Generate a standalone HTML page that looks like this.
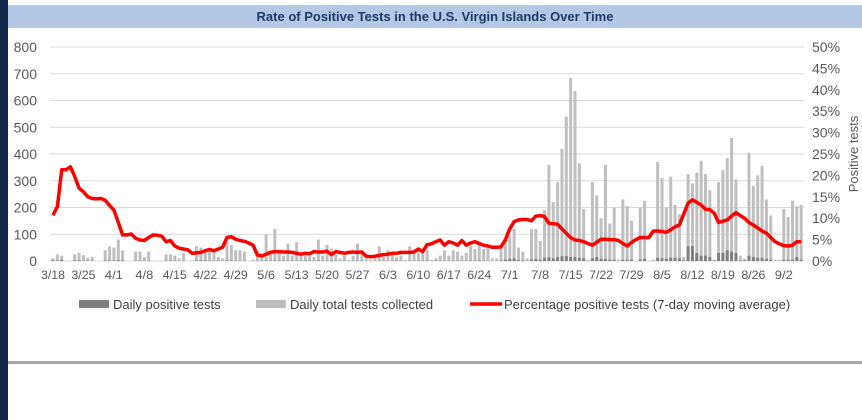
<!DOCTYPE html>
<html><head><meta charset="utf-8"><style>
body{margin:0;width:862px;height:420px;overflow:hidden;background:#fff;font-family:"Liberation Sans",sans-serif;position:relative}
#strip{position:absolute;left:0;top:0;width:8px;height:420px;background:#13284a}
#titlebar{position:absolute;left:8px;top:5px;width:854px;height:23px;background:#b4c7e7;text-align:center;font-weight:bold;font-size:13px;line-height:23px;color:#1f3864}
#rule{position:absolute;left:8px;top:361px;width:854px;height:3px;background:#a6a6a6}
svg{position:absolute;left:0;top:0}
</style></head><body>
<div id="strip"></div>
<div id="titlebar">Rate of Positive Tests in the U.S. Virgin Islands Over Time</div>
<div id="rule"></div>
<svg id="chart" width="862" height="420"></svg>
<script>
const dateLabels=["3/18","3/25","4/1","4/8","4/15","4/22","4/29","5/6","5/13","5/20","5/27","6/3","6/10","6/17","6/24","7/1","7/8","7/15","7/22","7/29","8/5","8/12","8/19","8/26","9/2"];
const leftTicks=[0,100,200,300,400,500,600,700,800];
const rightTicks=["0%","5%","10%","15%","20%","25%","30%","35%","40%","45%","50%"];
const totalTests=[10,25,20,0,0,25,30,22,12,15,0,0,40,55,50,80,40,0,0,35,35,15,35,0,0,0,25,25,20,10,30,0,0,55,50,45,40,40,15,10,70,60,40,40,35,0,5,20,25,100,30,120,30,20,65,20,70,25,20,20,15,80,20,60,45,25,10,20,5,20,65,30,10,5,10,55,15,40,25,15,20,5,55,35,30,30,40,5,10,20,40,20,40,35,20,30,55,45,60,45,50,10,10,50,80,95,120,50,35,10,120,120,75,190,360,220,295,420,540,685,635,365,195,5,295,245,160,360,140,200,5,230,205,150,0,200,225,0,5,370,310,200,315,210,175,15,325,290,330,375,325,265,5,295,340,385,460,305,20,10,405,280,320,355,230,170,5,5,195,165,225,205,210];
const positiveTests=[3,2,5,0,0,2,2,1,1,1,0,0,2,2,2,3,2,0,0,1,1,1,1,0,0,0,1,1,1,0,1,0,0,2,2,2,1,1,1,0,3,2,1,1,1,0,0,1,1,2,1,2,1,1,1,1,1,1,1,1,1,2,1,1,1,1,0,1,0,1,1,1,0,0,0,1,1,1,1,1,1,0,1,1,1,1,2,0,1,1,1,1,1,1,1,1,1,1,2,1,1,0,0,2,5,8,10,3,2,0,6,8,5,12,14,10,14,18,18,15,15,12,10,0,10,15,8,8,5,5,0,5,5,5,0,6,8,0,0,12,10,8,12,12,10,2,55,55,30,20,20,15,2,30,30,40,35,30,2,2,20,15,12,12,8,5,0,0,5,5,5,15,5];
const pctPositive=[10.7,12.7,21.3,21.3,22.0,19.7,17.0,16.2,15.0,14.6,14.5,14.6,14.2,13.0,11.9,9.0,6.1,6.1,6.3,5.3,4.9,4.8,5.5,6.1,6.0,5.8,4.5,4.8,3.5,3.0,2.8,2.6,1.8,1.9,2.0,2.4,2.7,2.4,2.8,3.2,5.5,5.7,5.1,4.8,4.6,4.2,3.7,1.4,1.2,1.6,2.0,2.2,2.2,2.1,2.1,2.0,1.8,1.6,1.8,1.7,2.2,2.1,2.1,2.3,1.5,2.2,2.0,1.8,2.0,2.1,2.0,2.1,1.1,1.0,1.1,1.3,1.5,1.6,1.8,1.8,2.0,2.0,2.0,2.1,2.8,2.2,3.8,4.0,4.5,4.9,3.7,4.5,4.2,3.7,4.8,3.7,4.2,4.5,4.1,3.7,3.5,3.2,3.2,3.3,5.0,7.5,9.2,9.6,9.7,9.7,9.4,10.5,10.6,10.4,8.8,8.7,8.6,7.5,6.5,5.5,4.9,4.8,4.5,4.1,3.7,4.4,5.1,5.1,5.0,5.0,4.8,4.1,3.5,4.3,5.0,5.5,5.5,5.5,7.0,7.0,6.9,6.7,7.3,8.0,8.4,11.0,13.5,14.3,13.7,13.1,12.1,12.0,11.2,9.0,9.3,9.6,10.5,11.3,10.6,10.0,9.0,8.4,7.7,7.0,6.5,5.5,4.5,4.0,3.6,3.5,3.7,4.5,4.5];

const NS="http://www.w3.org/2000/svg";
const svg=document.getElementById('chart');
const X0=50,X1=804,Y0=261,Y1=47,DW=4.35,XC=53;
const xDay=i=>XC+DW*i;
const yL=v=>Y0-(v/800)*(Y0-Y1);
const yR=p=>Y0-(p/50)*(Y0-Y1);
function mk(tag,attrs){const e=document.createElementNS(NS,tag);for(const k in attrs)e.setAttribute(k,attrs[k]);svg.appendChild(e);return e;}

leftTicks.forEach(v=>{
  const g=mk('line',{x1:X0,x2:X1,y1:yL(v),y2:yL(v),stroke:'#d9d9d9','stroke-width':1});
  
  
  const t=mk('text',{x:37,y:yL(v)+5,'text-anchor':'end','font-size':14,fill:'#595959'});
  t.textContent=v;
  
  
});
rightTicks.forEach((s,k)=>{
  const t=mk('text',{x:812,y:yR(k*5)+5,'font-size':14,fill:'#595959'});
  t.textContent=s;
  
  
});
const rt=mk('text',{x:0,y:0,'font-size':13,fill:'#595959','text-anchor':'middle',transform:'translate(858,154) rotate(-90)'});
rt.textContent='Positive tests';



dateLabels.forEach((s,k)=>{
  const t=mk('text',{x:xDay(k*7),y:279,'text-anchor':'middle','font-size':12,fill:'#595959',textLength:s.length>3?24:18,lengthAdjust:'spacingAndGlyphs'});
  t.textContent=s;
  
  
});

totalTests.forEach((v,i)=>{
  if(v<=0)return;
  const b=mk('rect',{x:xDay(i)-1.5,y:yL(v),width:3,height:Y0-yL(v),fill:'#bfbfbf'});
  
  
});
positiveTests.forEach((v,i)=>{
  if(v<=0)return;
  const b=mk('rect',{x:xDay(i)-1.5,y:yL(v),width:3,height:Y0-yL(v),fill:'#7f7f7f'});
  
  
});
const pts=pctPositive.map((p,i)=>xDay(i).toFixed(1)+','+yR(p).toFixed(1)).join(' ');
const ln=mk('polyline',{points:pts,fill:'none',stroke:'#ff0000','stroke-width':3.5,'stroke-linejoin':'round'});



const l1=mk('rect',{x:79,y:300,width:30,height:8,fill:'#7f7f7f'});


const t1=mk('text',{x:113,y:309,'font-size':13,fill:'#404040'});t1.textContent='Daily positive tests';


const l2=mk('rect',{x:256,y:300,width:30,height:8,fill:'#bfbfbf'});


const t2=mk('text',{x:290,y:309,'font-size':13,fill:'#404040'});t2.textContent='Daily total tests collected';


const l3=mk('line',{x1:470,x2:502,y1:304,y2:304,stroke:'#ff0000','stroke-width':3.5});


const t3=mk('text',{x:504,y:309,'font-size':13,fill:'#404040'});t3.textContent='Percentage positive tests (7-day moving average)';


</script>
</body></html>
